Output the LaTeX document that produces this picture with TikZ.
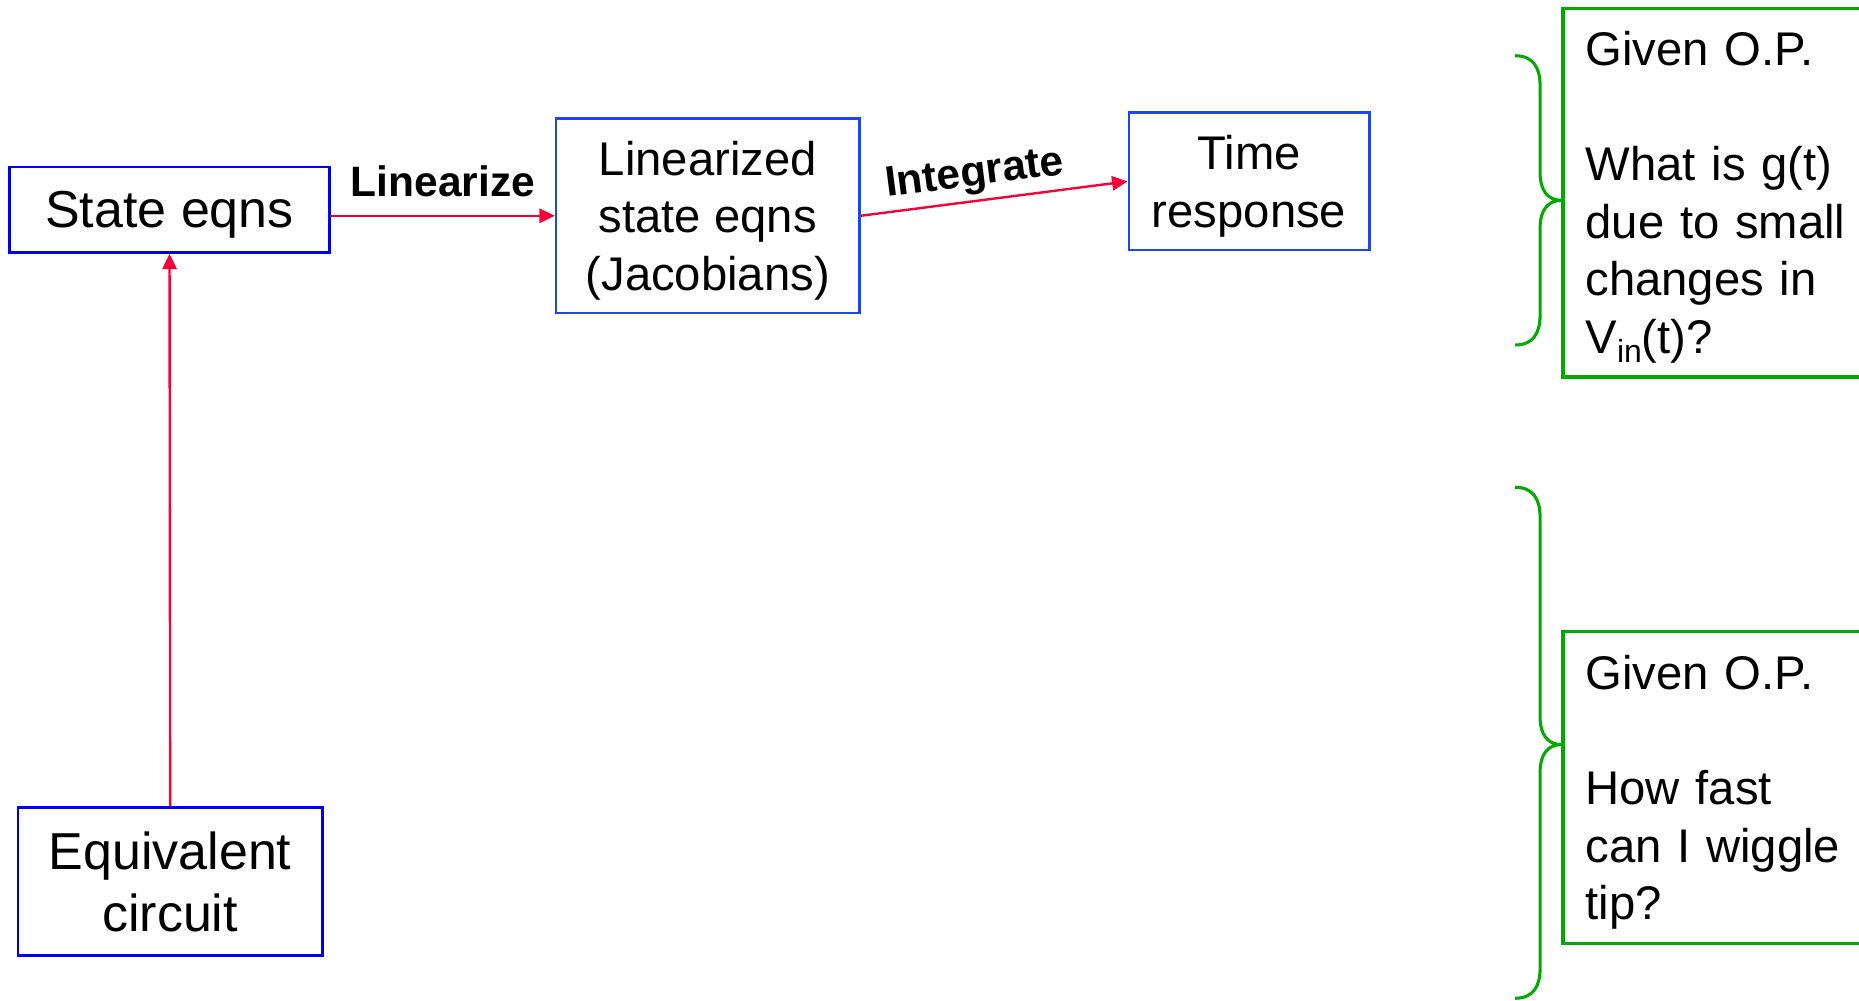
\documentclass[tikz,border=0pt]{standalone}
\usepackage{fontspec}
\setmainfont{Liberation Sans}
\usetikzlibrary{arrows.meta}
\definecolor{boxblue}{RGB}{0,0,235}
\definecolor{boxblueb}{RGB}{30,70,240}
\definecolor{flowred}{RGB}{245,0,55}
\definecolor{notegreen}{RGB}{0,170,0}
\begin{document}
\begin{tikzpicture}[x=1bp,y=-1bp,
  blockbig/.style={draw=boxblue, line width=2bp, inner sep=0pt, align=center,
    text depth=0pt, font=\fontsize{44}{52.8}\selectfont},
  block/.style={draw=boxblueb, line width=2bp, inner sep=0pt, align=center,
    text depth=0pt, font=\fontsize{40}{49}\selectfont},
  note/.style={draw=notegreen, line width=2.6bp, inner xsep=19bp, inner ysep=0pt,
    align=left, text width=245bp, anchor=west,
    font=\fontsize{40}{48.7}\selectfont},
  flow/.style={draw=flowred, line width=2bp, -{Triangle[length=13bp,width=12bp]}},
  lbl/.style={font=\fontsize{36}{40}\selectfont\bfseries, text=black},
  brace/.style={draw=notegreen, line width=2.6bp}]

  \clip (0,0) rectangle (1568,844);

  % processing chain
  \node[blockbig, minimum width=270bp, minimum height=72bp] (state) at (143,177) {State eqns};
  \node[blockbig, minimum width=257bp, minimum height=125bp] (equiv) at (143.5,743.5) {Equivalent\\circuit};
  \node[block, minimum width=256bp, minimum height=164bp] (lin) at (597,182) {Linearized\\state eqns\\(Jacobians)};
  \node[block, minimum width=203bp, minimum height=116bp] (time) at (1053.5,153) {Time\\response};

  \draw[flow] (equiv.north) -- (state.south);
  \draw[flow] (state.east |- lin.west) -- node[lbl, above=12bp] {Linearize} (lin.west);
  \draw[flow] (lin.east) -- node[lbl, sloped, above=1bp, pos=0.44] {Integrate} (time.west);

  % questions at a given operating point (depth set to the last baseline)
  \node[note, minimum height=311bp, text depth=243.5bp] (q1) at (1317,162.5)
    {Given O.P.\\[48.7bp]What is g(t)\\due to small\\changes in\\V\raisebox{-0.2em}{\fontsize{27}{27}\selectfont in}(t)?};
  \node[note, minimum height=263bp, text depth=194.8bp] (q2) at (1317,664.5)
    {Given O.P.\\[48.7bp]How fast\\can I wiggle\\tip?};

  % braces
  \draw[brace] (1278,47) .. controls (1293,47) and (1299,57) .. (1299,72)
    -- (1299,146) .. controls (1299,160) and (1305,169) .. (1317,169)
    .. controls (1305,169) and (1299,178) .. (1299,192)
    -- (1299,266) .. controls (1299,281) and (1293,291) .. (1278,291);
  \draw[brace] (1278,411) .. controls (1293,411) and (1299,421) .. (1299,436)
    -- (1299,605) .. controls (1299,619) and (1305,628) .. (1317,628)
    .. controls (1305,628) and (1299,637) .. (1299,651)
    -- (1299,817) .. controls (1299,832) and (1293,842) .. (1278,842);
\end{tikzpicture}
\end{document}
